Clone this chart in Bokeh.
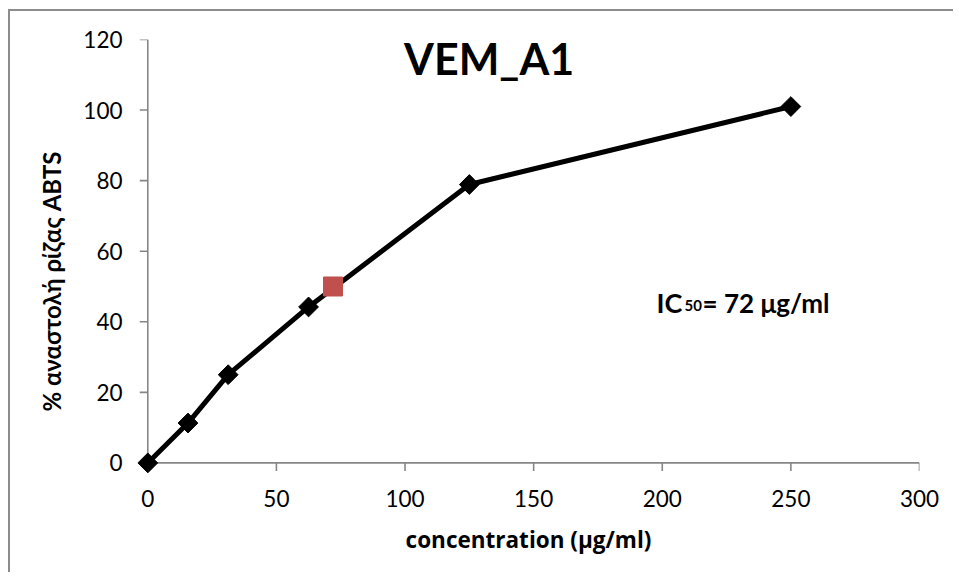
from math import pi
from bokeh.plotting import figure
from bokeh.models import Range1d, Label, FixedTicker, Title
from bokeh.embed import file_html
from bokeh.resources import INLINE

# ---- data ----
conc = [0, 15.625, 31.25, 62.5, 125, 250]
inhibition = [0, 11.3, 25.0, 44.2, 78.9, 101.0]
ic50_x = [72]
ic50_y = [50]
x_ticks = [0, 50, 100, 150, 200, 250, 300]
y_ticks = [0, 20, 40, 60, 80, 100, 120]
title_text = "VEM_A1"
x_label = "concentration (μg/ml)"
y_label = "% αναστολή ρίζας ABTS"

FONT = "Lato, 'Open Sans', sans-serif"
FONT2 = "'Open Sans', sans-serif"
AXIS_COLOR = "#868686"

W, H = 945, 563
X0, X1 = x_ticks[0], x_ticks[-1]
Y0, Y1 = y_ticks[0], y_ticks[-1]
p = figure(width=W, height=H, output_backend="svg", toolbar_location=None,
           x_range=Range1d(X0 - 4, X1), y_range=Range1d(Y0 - 3, Y1),
           min_border_left=127, min_border_right=36,
           min_border_top=28, min_border_bottom=101)
p.styles = {"margin-left": "8px", "margin-top": "9px",
            "border-left": "2px solid #8c8c8c", "border-top": "2px solid #8c8c8c"}
p.outline_line_color = None
p.xgrid.visible = False
p.ygrid.visible = False
p.background_fill_color = "white"
p.border_fill_color = "white"

# Bokeh axes only provide the tick labels; axis lines/ticks drawn at data 0 below
for ax, ticks in ((p.xaxis, x_ticks), (p.yaxis, y_ticks)):
    ax.ticker = FixedTicker(ticks=ticks)
    ax.axis_line_color = None
    ax.major_tick_line_color = None
    ax.minor_tick_line_color = None
    ax.major_tick_out = 0
    ax.major_tick_in = 0
    ax.major_label_text_font = FONT
    ax.major_label_text_font_size = "22.5px"
    ax.major_label_text_color = "black"

p.xaxis.major_label_standoff = 16
p.yaxis.major_label_standoff = 15

p.xaxis.axis_label = x_label
p.xaxis.axis_label_text_font = FONT2
p.xaxis.axis_label_text_font_style = "bold"
p.xaxis.axis_label_text_font_size = "22.5px"
p.xaxis.axis_label_text_color = "black"
p.xaxis.axis_label_standoff = 14

# y-axis title (positioned like the original: centred on area incl. tick labels)
p.add_layout(Title(text=y_label, align="left", offset=62, standoff=30,
                   text_font=FONT, text_font_style="bold",
                   text_font_size="24px", text_color="black"), "left")

# axis lines and tick marks at the data origin
tick_dx = 8 / 2.572
tick_dy = 8 / 3.528
p.segment(x0=[X0, X0], y0=[Y0, Y0], x1=[X1, X0], y1=[Y0, Y1],
          line_color=AXIS_COLOR, line_width=1.6)
p.segment(x0=x_ticks, y0=[Y0] * len(x_ticks), x1=x_ticks,
          y1=[Y0 - tick_dy] * len(x_ticks), line_color=AXIS_COLOR, line_width=1.6)
p.segment(x0=[X0] * len(y_ticks), y0=y_ticks, x1=[X0 - tick_dx] * len(y_ticks),
          y1=y_ticks, line_color=AXIS_COLOR, line_width=1.6)

# series
p.line(conc, inhibition, line_color="black", line_width=5)
p.scatter(conc, inhibition, marker="square", size=14, angle=pi / 4,
          fill_color="black", line_color="black")
p.scatter(ic50_x, ic50_y, marker="square", size=19,
          fill_color="#C0504D", line_color="#C0504D")

# title
p.add_layout(Label(x=132.7, y=114.6, text=title_text, text_align="center",
                   text_baseline="alphabetic", text_font=FONT,
                   text_font_style="bold", text_font_size="43px",
                   text_color="black"))

# IC50 annotation
ic_kw = dict(text_baseline="alphabetic", text_align="left", text_font=FONT,
             text_font_style="bold", text_color="black")
p.add_layout(Label(x=197.8, y=45.4, text="IC", text_font_size="27px", **ic_kw))
p.add_layout(Label(x=197.8, y=45.4, x_offset=28, y_offset=-3, text="50",
                   text_font_size="15px", **ic_kw))
p.add_layout(Label(x=197.8, y=45.4, x_offset=46, text="= 72 μg/ml",
                   text_font_size="26px", **ic_kw))

open("out.html", "w").write(file_html(p, INLINE))
